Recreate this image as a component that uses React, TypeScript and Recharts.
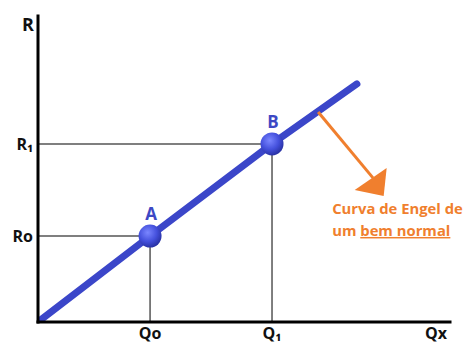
import React from "react";
import {
  LineChart,
  Line,
  XAxis,
  YAxis,
  ReferenceLine,
  ReferenceDot,
} from "recharts";

// Engel curve: quantity (Qx) against income (R)
const quantities = [0, 2.72, 5.68, 7.74];
const incomes = [0, 2.81, 5.82, 7.78];
const pointNames = ["", "A", "B", ""];

const qTicks = [2.72, 5.68];
const qTickLabels = ["Qo", "Q₁"];
const rTicks = [2.81, 5.82];
const rTickLabels = ["Ro", "R₁"];

const data = quantities.map((q, i) => ({ q, r: incomes[i], name: pointNames[i] }));

const FONT = "'Open Sans', 'DejaVu Sans', sans-serif";
const BLUE = "#3b46c9";
const ORANGE = "#f07f2e";

const Dot = (props: any) => {
  const { cx, cy, payload } = props;
  if (!payload.name) return <g key={props.index} />;
  return (
    <g key={props.index}>
      <circle cx={cx} cy={cy} r={11.5} fill="url(#dotFill)" />
      <text
        x={cx + 1}
        y={cy - 16}
        textAnchor="middle"
        fill="#3d48c4"
        fontFamily={FONT}
        fontWeight={700}
        fontSize={17}
      >
        {payload.name}
      </text>
    </g>
  );
};

export default function App() {
  const tickStyle = { fill: "#111", fontSize: 16, fontWeight: 700, fontFamily: FONT };
  return (
    <div style={{ position: "absolute", left: 0, top: 0, background: "#fff" }}>
      <LineChart
        width={466}
        height={343}
        data={data}
        margin={{ top: 16, right: 16, left: 0, bottom: 0 }}
      >
        <defs>
          <radialGradient id="dotFill" cx="40%" cy="35%" r="65%">
            <stop offset="0%" stopColor="#7a86ff" />
            <stop offset="60%" stopColor="#4450dc" />
            <stop offset="100%" stopColor="#2a33a6" />
          </radialGradient>
        </defs>
        <XAxis
          dataKey="q"
          type="number"
          domain={[0, 10]}
          ticks={qTicks}
          tickFormatter={(v: number) => qTickLabels[qTicks.indexOf(v)]}
          tickLine={false}
          tickSize={0}
          tickMargin={6}
          tick={tickStyle}
          height={21}
          axisLine={{ stroke: "#000", strokeWidth: 3, strokeLinecap: "square" }}
          allowDataOverflow
          label={{
            content: ({ viewBox }: any) => (
              <text
                x={viewBox.x + viewBox.width - 14}
                y={viewBox.y + 17}
                textAnchor="middle"
                style={tickStyle}
              >
                Qx
              </text>
            ),
          }}
        />
        <YAxis
          type="number"
          domain={[0, 10]}
          ticks={rTicks}
          tickFormatter={(v: number) => rTickLabels[rTicks.indexOf(v)]}
          tickLine={false}
          tickSize={0}
          tickMargin={5}
          tick={tickStyle}
          width={38}
          axisLine={{ stroke: "#000", strokeWidth: 3, strokeLinecap: "square" }}
          allowDataOverflow
          label={{
            content: ({ viewBox }: any) => (
              <text
                x={viewBox.x + viewBox.width - 10}
                y={viewBox.y + 15}
                textAnchor="middle"
                style={{ ...tickStyle, fontSize: 18 }}
              >
                R
              </text>
            ),
          }}
        />
        {qTicks.map((q, i) => (
          <ReferenceLine
            key={"h" + i}
            segment={[
              { x: 0, y: rTicks[i] },
              { x: q, y: rTicks[i] },
            ]}
            stroke="#555"
            strokeWidth={1.5}
            ifOverflow="visible"
          />
        ))}
        {qTicks.map((q, i) => (
          <ReferenceLine
            key={"v" + i}
            segment={[
              { x: q, y: 0 },
              { x: q, y: rTicks[i] },
            ]}
            stroke="#555"
            strokeWidth={1.5}
            ifOverflow="visible"
          />
        ))}
        <Line
          type="linear"
          dataKey="r"
          stroke={BLUE}
          strokeWidth={7}
          strokeLinecap="round"
          dot={Dot}
          activeDot={false}
          isAnimationActive={false}
        />
        {/* annotation arrow */}
        <ReferenceLine
          segment={[
            { x: 6.8, y: 6.86 },
            { x: 8.13, y: 4.71 },
          ]}
          stroke={ORANGE}
          strokeWidth={3}
          ifOverflow="visible"
        />
        <ReferenceDot
          x={8.39}
          y={4.12}
          ifOverflow="visible"
          shape={(p: any) => (
            <polygon
              points={`${p.cx},${p.cy} ${p.cx + 3},${p.cy - 28} ${p.cx - 29},${p.cy - 6}`}
              fill={ORANGE}
            />
          )}
        />
        <ReferenceDot
          x={7.14}
          y={3.53}
          ifOverflow="visible"
          shape={(p: any) => (
            <text
              x={p.cx}
              y={p.cy}
              fill={ORANGE}
              fontFamily={FONT}
              fontWeight={700}
              fontSize={14.8}
            >
              <tspan x={p.cx} dy={0}>Curva de Engel de</tspan>
              <tspan x={p.cx} dy={22}>um </tspan>
              <tspan textDecoration="underline">bem normal</tspan>
            </text>
          )}
        />
      </LineChart>
    </div>
  );
}
